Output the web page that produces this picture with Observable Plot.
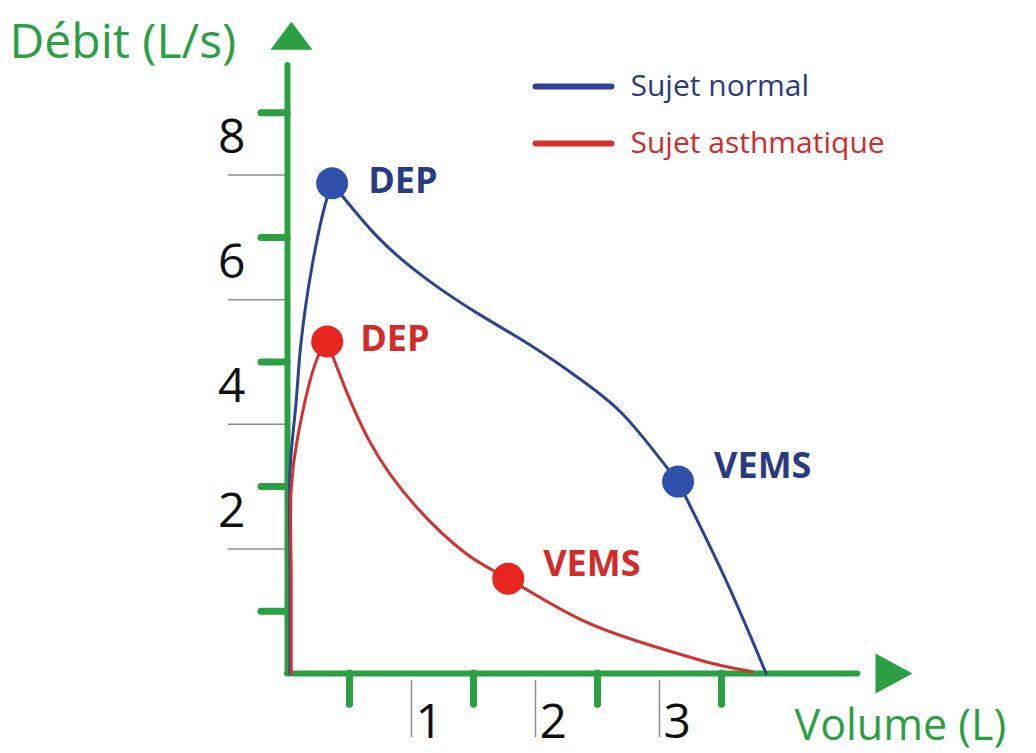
<!DOCTYPE html>
<html><head><meta charset="utf-8">
<script src="https://cdn.jsdelivr.net/npm/d3@7"></script>
<script src="https://cdn.jsdelivr.net/npm/@observablehq/plot@0.6"></script>
<style>html,body{margin:0;padding:0;background:#fff;overflow:hidden}svg{display:block}</style>
</head><body><div id="chart"></div>
<script>
// ---- data ----
const series = ["Sujet normal", "Sujet asthmatique"];
// Sujet normal: rise to DEP, DEP -> VEMS, VEMS -> end
const normalRiseVolume = [0.02, 0.02, 0.02, 0.07, 0.11, 0.19, 0.30, 0.36];
const normalRiseFlow   = [0, 1.6, 3.24, 4.37, 5.33, 6.45, 7.50, 7.87];
const normalMidVolume  = [0.36, 0.74, 1.15, 1.55, 1.95, 2.35, 2.68, 2.94, 3.15];
const normalMidFlow    = [7.87, 6.98, 6.29, 5.76, 5.28, 4.74, 4.21, 3.61, 3.08];
const normalEndVolume  = [3.15, 3.54, 3.86];
const normalEndFlow    = [3.08, 1.48, 0];
// Sujet asthmatique: rise to DEP, DEP -> end
const asthmaRiseVolume = [0.03, 0.03, 0.03, 0.08, 0.24, 0.32];
const asthmaRiseFlow   = [0, 1.5, 2.97, 3.77, 5.06, 5.33];
const asthmaFallVolume = [0.32, 0.65, 1.05, 1.45, 1.78, 2.35, 2.90, 3.43, 3.75];
const asthmaFallFlow   = [5.33, 3.77, 2.65, 1.91, 1.52, 0.88, 0.47, 0.16, 0.03];
const markerLabels = ["DEP", "VEMS"];
const normalMarkerVolume = [0.36, 3.15];
const normalMarkerFlow   = [7.87, 3.08];
const asthmaMarkerVolume = [0.32, 1.78];
const asthmaMarkerFlow   = [5.33, 1.52];
const yLabelTicks = [2, 4, 6, 8];
const yMinorTicks = [1, 3, 5, 7, 9];
const xLabelTicks = [1, 2, 3];
const xMinorTicks = [0.5, 1.5, 2.5, 3.5];
const yTitle = "Débit (L/s)";
const xTitle = "Volume (L)";

// ---- styles ----
const green = "#2aa043";
const blueLine = "#2c4391", blueDot = "#2f50ab", blueText = "#2b3b80";
const redLine = "#d3302f", redDot = "#e8261f", redText = "#d42a2a";
const thin = "#8c8c8c";

function rows(vols, flows) { return vols.map((v, i) => ({volume: v, flow: flows[i]})); }
const normalRise = rows(normalRiseVolume, normalRiseFlow);
const normalMid = rows(normalMidVolume, normalMidFlow);
const normalEnd = rows(normalEndVolume, normalEndFlow);
const asthmaRise = rows(asthmaRiseVolume, asthmaRiseFlow);
const asthmaFall = rows(asthmaFallVolume, asthmaFallFlow);
const normalMarkers = markerLabels.map((l, i) => ({label: l, volume: normalMarkerVolume[i], flow: normalMarkerFlow[i]}));
const asthmaMarkers = markerLabels.map((l, i) => ({label: l, volume: asthmaMarkerVolume[i], flow: asthmaMarkerFlow[i]}));

const arrowUp = {draw(ctx) { ctx.moveTo(0, -15); ctx.lineTo(21, 13); ctx.lineTo(-21, 13); ctx.closePath(); }};
const arrowRight = {draw(ctx) { ctx.moveTo(19, 0); ctx.lineTo(-18, -20); ctx.lineTo(-18, 20); ctx.closePath(); }};
const legendStroke = {draw(ctx) { ctx.moveTo(-38, 0); ctx.lineTo(38, 0); }};

const W = 1036, H = 753, ux = 124, uy = 62.3, ox = 287, oy = 673;
const legendColors = [blueLine, redLine], legendText = [blueText, redText];
const labelStyle = {x: "volume", y: "flow", text: "label", textAnchor: "start", lineAnchor: "middle", fontSize: 36, fontWeight: "bold"};
const lineStyle = {x: "volume", y: "flow", strokeWidth: 3};

const chart = Plot.plot({
  width: W, height: H, margin: 0,
  x: {domain: [-ox / ux, (W - ox) / ux], axis: null},
  y: {domain: [-(H - oy) / uy, oy / uy], axis: null},
  style: {background: "white", fontFamily: "'Open Sans', sans-serif", color: "#111"},
  marks: [
    // thin label lines
    Plot.ruleY(yLabelTicks, {y: d => d, x1: -0.476, x2: 0, stroke: thin, strokeWidth: 1.5}),
    Plot.ruleX(xLabelTicks, {x: d => d, y1: -0.11, y2: -1.03, stroke: thin, strokeWidth: 1.5}),
    // axes
    Plot.ruleX([0], {x: d => d, y1: 0, y2: 9.76, stroke: green, strokeWidth: 6, strokeLinecap: "round"}),
    Plot.ruleY([0], {y: d => d, x1: 0, x2: 4.6, stroke: green, strokeWidth: 6, strokeLinecap: "round"}),
    Plot.ruleY(yMinorTicks, {y: d => d, x1: -0.21, x2: 0, stroke: green, strokeWidth: 7, strokeLinecap: "round"}),
    Plot.ruleX(xMinorTicks, {x: d => d, y1: 0, y2: -0.5, stroke: green, strokeWidth: 7, strokeLinecap: "round"}),
    Plot.dot([0], {x: 0.032, y: 10.22, symbol: arrowUp, fill: green, stroke: null}),
    Plot.dot([0], {x: 4.887, y: 0, symbol: arrowRight, fill: green, stroke: null}),
    // tick labels
    Plot.text(yLabelTicks, {x: 0, y: d => d, text: d => String(d), dx: -42, dy: -22, textAnchor: "end", lineAnchor: "bottom", fontSize: 48, fill: "#111"}),
    Plot.text(xLabelTicks, {x: d => d, y: 0, text: d => String(d), dx: 4, dy: 64, textAnchor: "start", lineAnchor: "bottom", fontSize: 48, fill: "#111"}),
    // axis titles
    Plot.text([yTitle], {frameAnchor: "top-left", text: d => d, dx: 9, dy: 57, textAnchor: "start", lineAnchor: "bottom", fontSize: 48, fill: green}),
    Plot.text([xTitle], {frameAnchor: "top-left", text: d => d, dx: 794, dy: 739, textAnchor: "start", lineAnchor: "bottom", fontSize: 43, fill: green}),
    // curves
    Plot.line(normalRise, {...lineStyle, stroke: blueLine, curve: "catmull-rom"}),
    Plot.line(normalMid, {...lineStyle, stroke: blueLine, curve: "natural"}),
    Plot.line(normalEnd, {...lineStyle, stroke: blueLine, curve: "natural"}),
    Plot.line(asthmaRise, {...lineStyle, stroke: redLine, curve: "catmull-rom"}),
    Plot.line(asthmaFall, {...lineStyle, stroke: redLine, curve: "natural"}),
    // markers
    Plot.dot(normalMarkers, {x: "volume", y: "flow", r: 16, fill: blueDot, stroke: null}),
    Plot.dot(asthmaMarkers, {x: "volume", y: "flow", r: 16, fill: redDot, stroke: null}),
    Plot.text(normalMarkers.filter(d => d.label === "DEP"), {...labelStyle, dx: 36, dy: -2, fill: blueText}),
    Plot.text(normalMarkers.filter(d => d.label === "VEMS"), {...labelStyle, dx: 36, dy: -15, fill: blueText}),
    Plot.text(asthmaMarkers.filter(d => d.label === "DEP"), {...labelStyle, dx: 33, dy: -2, fill: redText}),
    Plot.text(asthmaMarkers.filter(d => d.label === "VEMS"), {...labelStyle, dx: 35, dy: -14, fill: redText}),
    // legend
    ...series.map((s, i) => Plot.dot([s], {frameAnchor: "top-left", dx: 573, dy: 86 + 57 * i, symbol: legendStroke, stroke: legendColors[i], strokeWidth: 6, strokeLinecap: "round", fill: "none"})),
    ...series.map((s, i) => Plot.text([s], {frameAnchor: "top-left", text: d => d, dx: 630, dy: 95 + 57 * i, textAnchor: "start", lineAnchor: "bottom", fontSize: 30, fill: legendText[i]}))
  ]
});
document.getElementById("chart").appendChild(chart);
</script>
</body></html>
